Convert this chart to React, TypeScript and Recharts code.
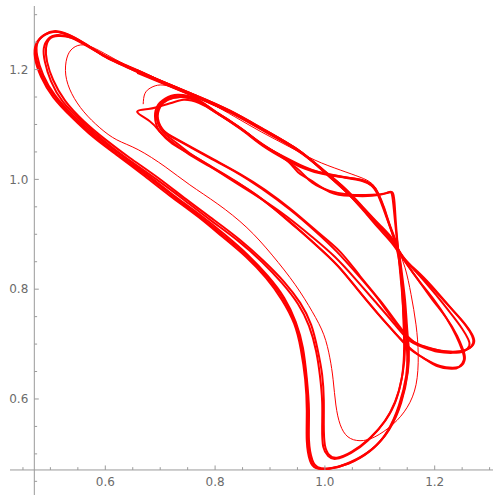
import React from 'react';
import { LineChart, Line, XAxis, YAxis, ReferenceLine, ReferenceDot } from 'recharts';

// ---- data (x, y) ----
const transientPath: number[][] = [
  [0.669, 1.137], [0.672, 1.156], [0.683, 1.167], [0.700, 1.172], [0.723, 1.168], [0.754, 1.157],
  [0.791, 1.139], [0.836, 1.114], [0.885, 1.086], [0.936, 1.059], [0.982, 1.035], [1.028, 1.017],
  [1.064, 1.004], [1.086, 0.992], [1.100, 0.968], [1.115, 0.926], [1.131, 0.881], [1.146, 0.839],
  [1.157, 0.790], [1.166, 0.735], [1.170, 0.680], [1.166, 0.626], [1.150, 0.585], [1.124, 0.554],
  [1.091, 0.531], [1.064, 0.524], [1.042, 0.531], [1.028, 0.553], [1.020, 0.589], [1.015, 0.635],
  [1.009, 0.675], [0.998, 0.717], [0.977, 0.759], [0.946, 0.808], [0.904, 0.862], [0.858, 0.912],
  [0.805, 0.955], [0.754, 0.990], [0.709, 1.023], [0.660, 1.054], [0.621, 1.072], [0.590, 1.094],
  [0.561, 1.123], [0.539, 1.156], [0.528, 1.190], [0.530, 1.221], [0.541, 1.239], [0.561, 1.245],
  [0.590, 1.234], [0.627, 1.214], [0.663, 1.198], [0.718, 1.172], [0.767, 1.150],
];

const cycleA: number[][] = [
  [0.658, 1.196], [0.709, 1.174], [0.767, 1.150], [0.827, 1.123], [0.887, 1.090], [0.949, 1.054],
  [0.997, 1.017], [1.037, 0.983], [1.069, 0.950], [1.100, 0.917], [1.124, 0.890], [1.142, 0.859],
  [1.173, 0.828], [1.204, 0.795], [1.233, 0.762], [1.255, 0.737], [1.268, 0.718], [1.272, 0.704],
  [1.264, 0.693], [1.246, 0.687], [1.219, 0.687], [1.188, 0.693], [1.159, 0.706], [1.130, 0.740],
  [1.100, 0.780], [1.064, 0.824], [1.028, 0.868], [0.987, 0.904], [0.940, 0.944], [0.891, 0.981],
  [0.845, 1.010], [0.800, 1.035], [0.760, 1.057], [0.727, 1.075], [0.705, 1.090], [0.694, 1.112],
  [0.698, 1.134], [0.712, 1.147], [0.736, 1.152], [0.767, 1.145], [0.796, 1.126], [0.827, 1.106],
  [0.858, 1.085], [0.887, 1.063], [0.927, 1.039], [0.964, 1.021], [0.995, 1.012], [1.037, 1.004],
  [1.068, 0.999], [1.086, 0.990], [1.097, 0.975], [1.108, 0.948], [1.120, 0.912], [1.133, 0.875],
  [1.140, 0.831], [1.146, 0.780], [1.150, 0.726], [1.153, 0.689], [1.151, 0.649], [1.139, 0.593],
  [1.117, 0.544], [1.086, 0.509], [1.046, 0.485], [1.009, 0.474], [0.987, 0.476], [0.977, 0.489],
  [0.971, 0.525], [0.971, 0.580], [0.967, 0.638], [0.960, 0.693], [0.947, 0.740], [0.926, 0.784],
  [0.896, 0.824], [0.860, 0.862], [0.818, 0.899], [0.773, 0.935], [0.722, 0.973], [0.672, 1.012],
  [0.623, 1.048], [0.581, 1.081], [0.541, 1.117], [0.508, 1.154], [0.487, 1.190], [0.476, 1.225],
  [0.477, 1.250], [0.492, 1.265], [0.512, 1.270], [0.539, 1.261], [0.569, 1.243], [0.600, 1.223],
  [0.627, 1.210], [0.658, 1.196], [0.709, 1.174], [0.767, 1.150], [0.827, 1.123],
];

const cycleB: number[][] = [
  [0.658, 1.198], [0.709, 1.176], [0.767, 1.152], [0.827, 1.125], [0.887, 1.092], [0.949, 1.055],
  [0.995, 1.017], [1.035, 0.981], [1.068, 0.946], [1.097, 0.912], [1.122, 0.884], [1.146, 0.850],
  [1.170, 0.817], [1.195, 0.782], [1.221, 0.748], [1.241, 0.715], [1.252, 0.689], [1.255, 0.673],
  [1.248, 0.660], [1.233, 0.657], [1.210, 0.660], [1.182, 0.673], [1.159, 0.689], [1.128, 0.720],
  [1.097, 0.755], [1.060, 0.799], [1.024, 0.842], [0.982, 0.882], [0.936, 0.922], [0.887, 0.963],
  [0.842, 0.993], [0.796, 1.021], [0.758, 1.044], [0.722, 1.065], [0.700, 1.086], [0.681, 1.106],
  [0.658, 1.123], [0.678, 1.128], [0.696, 1.132], [0.720, 1.139], [0.743, 1.145], [0.771, 1.139],
  [0.800, 1.123], [0.831, 1.103], [0.860, 1.083], [0.891, 1.061], [0.924, 1.039], [0.955, 1.015],
  [0.977, 0.994], [1.009, 0.979], [1.046, 0.972], [1.086, 0.972], [1.111, 0.975], [1.124, 0.975],
  [1.128, 0.941], [1.131, 0.899], [1.135, 0.853], [1.140, 0.799], [1.144, 0.744], [1.146, 0.693],
  [1.142, 0.649], [1.131, 0.602], [1.111, 0.562], [1.082, 0.529], [1.049, 0.504], [1.022, 0.493],
  [1.008, 0.498], [1.000, 0.516], [0.998, 0.553], [0.998, 0.598], [0.995, 0.644], [0.987, 0.689],
  [0.975, 0.735], [0.955, 0.775], [0.926, 0.813], [0.889, 0.851], [0.845, 0.890], [0.798, 0.926],
  [0.747, 0.964], [0.696, 1.003], [0.645, 1.039], [0.601, 1.072], [0.561, 1.106], [0.527, 1.143],
  [0.505, 1.181], [0.494, 1.214], [0.492, 1.239], [0.499, 1.256], [0.514, 1.261], [0.539, 1.258],
  [0.572, 1.241], [0.609, 1.219], [0.658, 1.198], [0.709, 1.174], [0.767, 1.150], [0.827, 1.123],
];

const cycleC: number[][] = [
  [0.658, 1.194], [0.711, 1.172], [0.769, 1.148], [0.829, 1.121], [0.889, 1.088], [0.951, 1.052],
  [0.998, 1.015], [1.038, 0.979], [1.071, 0.946], [1.102, 0.913], [1.126, 0.886], [1.144, 0.855],
  [1.175, 0.824], [1.206, 0.791], [1.235, 0.759], [1.257, 0.733], [1.268, 0.715], [1.270, 0.702],
  [1.261, 0.691], [1.243, 0.686], [1.215, 0.687], [1.184, 0.695], [1.157, 0.708], [1.126, 0.742],
  [1.097, 0.782], [1.060, 0.826], [1.022, 0.868], [0.982, 0.906], [0.935, 0.946], [0.885, 0.983],
  [0.840, 1.012], [0.794, 1.037], [0.754, 1.059], [0.725, 1.075], [0.707, 1.088], [0.696, 1.110],
  [0.700, 1.132], [0.714, 1.145], [0.738, 1.150], [0.769, 1.143], [0.798, 1.125], [0.829, 1.105],
  [0.860, 1.083], [0.889, 1.061], [0.926, 1.039], [0.951, 1.013], [0.973, 0.999], [1.009, 0.977],
  [1.046, 0.970], [1.086, 0.970], [1.113, 0.975], [1.122, 0.973], [1.126, 0.941], [1.131, 0.893],
  [1.137, 0.844], [1.142, 0.790], [1.148, 0.735], [1.151, 0.689], [1.150, 0.647], [1.137, 0.591],
  [1.115, 0.542], [1.084, 0.507], [1.044, 0.483], [1.008, 0.473], [0.986, 0.474], [0.975, 0.487],
  [0.969, 0.524], [0.969, 0.578], [0.966, 0.636], [0.958, 0.691], [0.946, 0.738], [0.924, 0.782],
  [0.895, 0.822], [0.858, 0.861], [0.816, 0.897], [0.771, 0.933], [0.720, 0.972], [0.671, 1.010],
  [0.621, 1.046], [0.579, 1.079], [0.539, 1.116], [0.507, 1.152], [0.485, 1.188], [0.474, 1.223],
  [0.476, 1.249], [0.490, 1.263], [0.510, 1.269], [0.538, 1.261], [0.567, 1.245], [0.598, 1.225],
  [0.627, 1.210], [0.658, 1.196], [0.709, 1.174], [0.767, 1.150], [0.827, 1.123],
];

const cycleD: number[][] = [
  [0.658, 1.199], [0.709, 1.176], [0.767, 1.152], [0.827, 1.125], [0.887, 1.092], [0.949, 1.055],
  [0.995, 1.019], [1.037, 0.983], [1.069, 0.948], [1.099, 0.915], [1.124, 0.886], [1.148, 0.848],
  [1.173, 0.813], [1.199, 0.780], [1.222, 0.746], [1.239, 0.715], [1.250, 0.689], [1.253, 0.671],
  [1.244, 0.658], [1.230, 0.655], [1.204, 0.660], [1.179, 0.675], [1.155, 0.691], [1.126, 0.722],
  [1.095, 0.757], [1.059, 0.800], [1.022, 0.844], [0.980, 0.884], [0.935, 0.924], [0.885, 0.964],
  [0.840, 0.995], [0.794, 1.023], [0.756, 1.046], [0.725, 1.070], [0.705, 1.086], [0.694, 1.110],
  [0.698, 1.132], [0.712, 1.145], [0.736, 1.150], [0.767, 1.143], [0.796, 1.125], [0.827, 1.105],
  [0.858, 1.083], [0.887, 1.061], [0.927, 1.037], [0.964, 1.019], [0.995, 1.010], [1.037, 1.003],
  [1.068, 0.997], [1.086, 0.988], [1.097, 0.973], [1.108, 0.946], [1.120, 0.910], [1.133, 0.871],
  [1.139, 0.826], [1.142, 0.771], [1.144, 0.717], [1.144, 0.680], [1.140, 0.638], [1.128, 0.595],
  [1.108, 0.558], [1.079, 0.525], [1.048, 0.502], [1.020, 0.491], [1.006, 0.496], [0.997, 0.513],
  [0.995, 0.549], [0.995, 0.595], [0.991, 0.642], [0.984, 0.687], [0.971, 0.733], [0.951, 0.773],
  [0.922, 0.811], [0.885, 0.850], [0.842, 0.888], [0.794, 0.924], [0.743, 0.963], [0.692, 1.001],
  [0.641, 1.037], [0.598, 1.070], [0.558, 1.105], [0.523, 1.141], [0.501, 1.179], [0.490, 1.214],
  [0.488, 1.239], [0.496, 1.256], [0.512, 1.263], [0.538, 1.258], [0.570, 1.241], [0.607, 1.221],
  [0.658, 1.198], [0.709, 1.174], [0.767, 1.150],
];

const cycleE: number[][] = [
  [0.658, 1.196], [0.711, 1.174], [0.769, 1.150], [0.829, 1.123], [0.889, 1.090], [0.951, 1.054],
  [0.997, 1.015], [1.037, 0.979], [1.069, 0.946], [1.100, 0.913], [1.124, 0.886], [1.144, 0.857],
  [1.173, 0.824], [1.202, 0.790], [1.230, 0.755], [1.250, 0.728], [1.261, 0.709], [1.263, 0.697],
  [1.253, 0.687], [1.233, 0.684], [1.206, 0.686], [1.177, 0.695], [1.151, 0.709], [1.122, 0.742],
  [1.091, 0.778], [1.057, 0.817], [1.018, 0.859], [0.977, 0.895], [0.931, 0.932], [0.882, 0.966],
  [0.836, 0.995], [0.791, 1.023], [0.752, 1.046], [0.722, 1.068], [0.701, 1.085], [0.691, 1.108],
  [0.694, 1.132], [0.709, 1.147], [0.732, 1.154], [0.765, 1.147], [0.794, 1.128], [0.825, 1.108],
  [0.856, 1.086], [0.885, 1.064], [0.926, 1.041], [0.962, 1.023], [0.993, 1.012], [1.035, 1.004],
  [1.066, 0.999], [1.084, 0.990], [1.095, 0.975], [1.106, 0.948], [1.119, 0.912], [1.131, 0.873],
  [1.139, 0.824], [1.144, 0.769], [1.148, 0.715], [1.150, 0.678], [1.148, 0.642], [1.135, 0.589],
  [1.113, 0.540], [1.082, 0.505], [1.042, 0.482], [1.006, 0.473], [0.984, 0.474], [0.973, 0.487],
  [0.967, 0.524], [0.967, 0.578], [0.964, 0.636], [0.956, 0.691], [0.944, 0.737], [0.922, 0.780],
  [0.893, 0.820], [0.856, 0.859], [0.814, 0.895], [0.769, 0.932], [0.718, 0.970], [0.669, 1.008],
  [0.620, 1.045], [0.578, 1.077], [0.538, 1.114], [0.505, 1.150], [0.483, 1.187], [0.472, 1.221],
  [0.474, 1.247], [0.488, 1.263], [0.508, 1.269], [0.536, 1.261], [0.565, 1.245], [0.596, 1.227],
  [0.627, 1.212], [0.658, 1.198], [0.709, 1.176], [0.767, 1.152],
];

// ---- axes ----
const xDomain: [number, number] = [0.4264, 1.3062];
const yDomain: [number, number] = [0.4251, 1.3158];
const axisOrigin = 0.4707;
const majorTicks = [0.6, 0.8, 1.0, 1.2];
const majorLabels = ['0.6', '0.8', '1.0', '1.2'];
const xMinorTicks = [0.45, 0.5, 0.55, 0.65, 0.7, 0.75, 0.85, 0.9, 0.95, 1.05, 1.1, 1.15, 1.25, 1.3];
const yMinorTicks = [0.45, 0.5, 0.55, 0.65, 0.7, 0.75, 0.85, 0.9, 0.95, 1.05, 1.1, 1.15, 1.25, 1.3];

const AXIS = '#9a9a9a';
const LABEL = '#6b6b6b';
const CURVE = '#ff0000';
const FONT = 'DejaVu Sans, sans-serif';

const toPts = (a: number[][]) => a.map(([x, y]) => ({ x, y }));

const xTickShape = (len: number, label?: string) => (props: any) => {
  const { cx, cy } = props;
  return (
    <g>
      <line x1={cx} y1={cy} x2={cx} y2={cy - len} stroke={AXIS} strokeWidth={1} />
      {label ? (
        <text x={cx} y={cy + 16} textAnchor="middle" fill={LABEL} fontSize={12} fontFamily={FONT}>
          {label}
        </text>
      ) : null}
    </g>
  );
};

const yTickShape = (len: number, label?: string) => (props: any) => {
  const { cx, cy } = props;
  return (
    <g>
      <line x1={cx} y1={cy} x2={cx + len} y2={cy} stroke={AXIS} strokeWidth={1} />
      {label ? (
        <text x={cx - 6} y={cy + 4.3} textAnchor="end" fill={LABEL} fontSize={12} fontFamily={FONT}>
          {label}
        </text>
      ) : null}
    </g>
  );
};

const series = [transientPath, cycleA, cycleB, cycleC, cycleD, cycleE];

export default function App() {
  return (
    <div style={{ position: 'absolute', left: 0, top: 0, background: '#fff' }}>
      <LineChart width={493} height={495} margin={{ top: 6, right: 0, bottom: 0, left: 10 }}>
        <XAxis type="number" dataKey="x" domain={xDomain} allowDataOverflow hide />
        <YAxis type="number" domain={yDomain} allowDataOverflow hide />
        <ReferenceLine y={axisOrigin} stroke={AXIS} strokeWidth={1} />
        <ReferenceLine x={axisOrigin} stroke={AXIS} strokeWidth={1} />
        {xMinorTicks.map((t) => (
          <ReferenceDot key={'xm' + t} x={t} y={axisOrigin} r={0} shape={xTickShape(2.8)} />
        ))}
        {majorTicks.map((t, i) => (
          <ReferenceDot key={'xM' + t} x={t} y={axisOrigin} r={0} shape={xTickShape(4.5, majorLabels[i])} />
        ))}
        {yMinorTicks.map((t) => (
          <ReferenceDot key={'ym' + t} x={axisOrigin} y={t} r={0} shape={yTickShape(2.8)} />
        ))}
        {majorTicks.map((t, i) => (
          <ReferenceDot key={'yM' + t} x={axisOrigin} y={t} r={0} shape={yTickShape(4.5, majorLabels[i])} />
        ))}
        {series.map((s, i) => (
          <Line
            key={'s' + i}
            data={toPts(s)}
            dataKey="y"
            type="natural"
            stroke={CURVE}
            strokeWidth={i === 0 ? 1 : 2}
            dot={false}
            activeDot={false}
            isAnimationActive={false}
          />
        ))}
      </LineChart>
    </div>
  );
}
